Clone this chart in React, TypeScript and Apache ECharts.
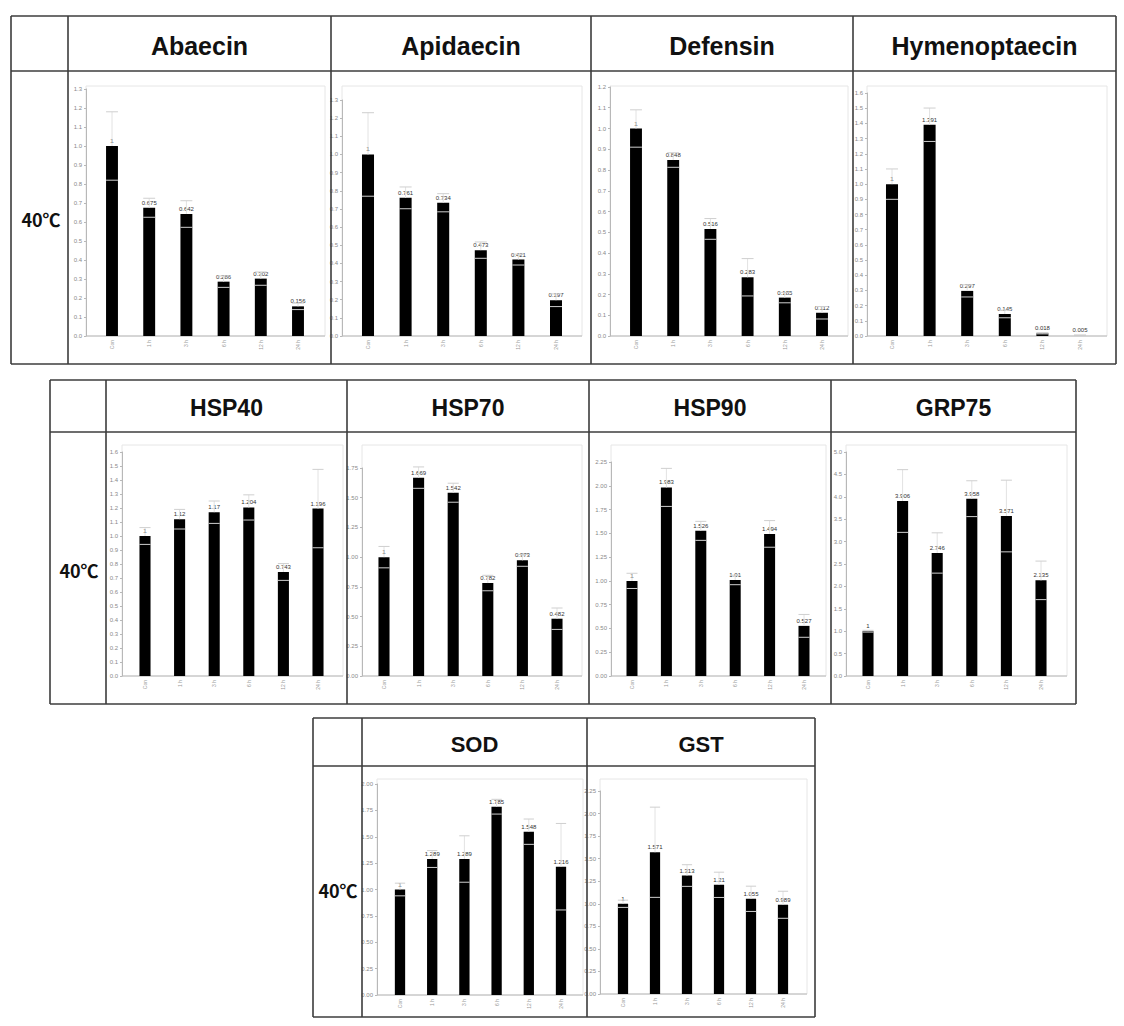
import React, { useEffect, useRef } from "react";
import * as echarts from "echarts";

// ---------- data ----------
const categories = ["Con", "1 h", "3 h", "6 h", "12 h", "24 h"];

const abaecinValues = [1, 0.675, 0.642, 0.286, 0.302, 0.156];
const abaecinErrors = [0.18, 0.05, 0.07, 0.03, 0.035, 0.017];

const apidaecinValues = [1, 0.761, 0.734, 0.473, 0.421, 0.197];
const apidaecinErrors = [0.23, 0.06, 0.05, 0.045, 0.03, 0.035];

const defensinValues = [1, 0.848, 0.516, 0.283, 0.185, 0.112];
const defensinErrors = [0.09, 0.035, 0.05, 0.09, 0.025, 0.03];

const hymenoptaecinValues = [1, 1.391, 0.297, 0.145, 0.018, 0.005];
const hymenoptaecinErrors = [0.1, 0.11, 0.04, 0.025, 0.004, 0.002];

const hsp40Values = [1, 1.12, 1.17, 1.204, 0.743, 1.196];
const hsp40Errors = [0.06, 0.07, 0.08, 0.09, 0.06, 0.28];

const hsp70Values = [1, 1.669, 1.542, 0.782, 0.973, 0.482];
const hsp70Errors = [0.09, 0.09, 0.08, 0.065, 0.05, 0.09];

const hsp90Values = [1, 1.983, 1.526, 1.01, 1.494, 0.527];
const hsp90Errors = [0.08, 0.2, 0.1, 0.05, 0.14, 0.12];

const grp75Values = [1, 3.906, 2.746, 3.958, 3.571, 2.135];
const grp75Errors = [0.02, 0.7, 0.45, 0.4, 0.8, 0.43];

const sodValues = [1, 1.289, 1.289, 1.785, 1.548, 1.216];
const sodErrors = [0.06, 0.08, 0.22, 0.07, 0.12, 0.41];

const gstValues = [1, 1.571, 1.313, 1.21, 1.055, 0.989];
const gstErrors = [0.04, 0.5, 0.12, 0.14, 0.14, 0.15];

const rowLabel = "40℃";

// ---------- panels (axis scale settings) ----------
const panels = [
  { title: "Abaecin", values: abaecinValues, errors: abaecinErrors, max: 1.3, interval: 0.1, dec: 1 },
  { title: "Apidaecin", values: apidaecinValues, errors: apidaecinErrors, max: 1.3, interval: 0.1, dec: 1 },
  { title: "Defensin", values: defensinValues, errors: defensinErrors, max: 1.2, interval: 0.1, dec: 1 },
  { title: "Hymenoptaecin", values: hymenoptaecinValues, errors: hymenoptaecinErrors, max: 1.6, interval: 0.1, dec: 1 },
  { title: "HSP40", values: hsp40Values, errors: hsp40Errors, max: 1.6, interval: 0.1, dec: 1 },
  { title: "HSP70", values: hsp70Values, errors: hsp70Errors, max: 1.75, interval: 0.25, dec: 2 },
  { title: "HSP90", values: hsp90Values, errors: hsp90Errors, max: 2.25, interval: 0.25, dec: 2 },
  { title: "GRP75", values: grp75Values, errors: grp75Errors, max: 5.0, interval: 0.5, dec: 1 },
  { title: "SOD", values: sodValues, errors: sodErrors, max: 2.0, interval: 0.25, dec: 2 },
  { title: "GST", values: gstValues, errors: gstErrors, max: 2.25, interval: 0.25, dec: 2 },
];

// ---------- layout (pixel geometry) ----------
const layouts = [
  { axisX: 86, topLine: 86, maxTickY: 89, baseY: 336, c1: 112, c6: 298, right: 325 },
  { axisX: 342, topLine: 86, maxTickY: 100, baseY: 336, c1: 368, c6: 556, right: 582 },
  { axisX: 610, topLine: 86, maxTickY: 87, baseY: 336, c1: 636, c6: 822, right: 848 },
  { axisX: 867, topLine: 86, maxTickY: 93, baseY: 336, c1: 892, c6: 1080, right: 1107 },
  { axisX: 122, topLine: 445, maxTickY: 452, baseY: 676, c1: 145, c6: 318, right: 343 },
  { axisX: 362, topLine: 445, maxTickY: 468, baseY: 676, c1: 384, c6: 557, right: 582 },
  { axisX: 611, topLine: 445, maxTickY: 462, baseY: 676, c1: 632, c6: 804, right: 826 },
  { axisX: 846, topLine: 445, maxTickY: 452, baseY: 676, c1: 868, c6: 1041, right: 1067 },
  { axisX: 377, topLine: 779, maxTickY: 784, baseY: 995, c1: 400, c6: 561, right: 583 },
  { axisX: 600, topLine: 779, maxTickY: 791, baseY: 994, c1: 623, c6: 783, right: 807 },
];

const tables = [
  { xs: [11, 68, 331, 591, 853, 1116], ys: [16, 71, 364], panelIdx: [0, 1, 2, 3], titleSize: 25, labelX: 41, labelY: 219 },
  { xs: [50, 106, 347, 589, 831, 1076], ys: [380, 432, 704], panelIdx: [4, 5, 6, 7], titleSize: 23, labelX: 79, labelY: 570 },
  { xs: [313, 362, 587, 815], ys: [718, 766, 1017], panelIdx: [8, 9], titleSize: 22, labelX: 338, labelY: 890 },
];

const TITLE_FONT = "'Liberation Sans', Arial, sans-serif";
const ERR_LINE = "#e2e2e2";
const ERR_CAP = "#cfcfcf";

function buildOption() {
  const grids: any[] = [];
  const xAxes: any[] = [];
  const yAxes: any[] = [];
  const series: any[] = [];
  const graphics: any[] = [];

  panels.forEach((p, i) => {
    const L = layouts[i];
    const sp = (L.c6 - L.c1) / 5;
    const left = L.c1 - sp / 2;
    grids.push({
      left,
      top: L.maxTickY,
      width: sp * 6,
      height: L.baseY - L.maxTickY,
      outerBoundsMode: "none",
      containLabel: false,
    });
    xAxes.push({
      type: "category",
      gridIndex: i,
      data: categories,
      axisLine: { show: false },
      axisTick: { show: false },
      axisLabel: { rotate: 90, fontSize: 5, color: "#999", margin: 4, fontFamily: TITLE_FONT },
    });
    yAxes.push({
      type: "value",
      gridIndex: i,
      min: 0,
      max: p.max,
      interval: p.interval,
      offset: left - L.axisX,
      axisLine: { show: true, lineStyle: { color: "#b8b8b8", width: 1 } },
      axisTick: { show: true, length: 2, lineStyle: { color: "#b8b8b8" } },
      splitLine: { show: false },
      axisLabel: {
        fontSize: 6,
        color: "#8a8a8a",
        margin: 4,
        fontFamily: TITLE_FONT,
        formatter: (v: number) => v.toFixed(p.dec),
      },
    });
    series.push({
      type: "bar",
      xAxisIndex: i,
      yAxisIndex: i,
      data: p.values,
      barWidth: "32%",
      itemStyle: { color: "#000" },
      z: 2,
      label: {
        show: true,
        position: "top",
        distance: 2,
        fontSize: 6,
        color: "#333",
        fontFamily: TITLE_FONT,
        formatter: (d: any) => String(d.value),
      },
    });
    series.push({
      type: "custom",
      xAxisIndex: i,
      yAxisIndex: i,
      z: 3,
      data: p.values.map((v, k) => [k, v, p.errors[k]]),
      renderItem: (params: any, api: any) => {
        const x = api.value(0);
        const v = api.value(1);
        const e = api.value(2);
        const top = api.coord([x, v + e]);
        const mid = api.coord([x, v]);
        const bot = api.coord([x, Math.max(0, v - e)]);
        const half = (api.size([1, 0])[0] * 0.32) / 2;
        return {
          type: "group",
          children: [
            { type: "line", shape: { x1: top[0], y1: top[1], x2: mid[0], y2: mid[1] }, style: { stroke: ERR_LINE, lineWidth: 1 } },
            { type: "line", shape: { x1: top[0] - half, y1: top[1], x2: top[0] + half, y2: top[1] }, style: { stroke: ERR_CAP, lineWidth: 1 } },
            { type: "line", shape: { x1: bot[0] - half, y1: bot[1], x2: bot[0] + half, y2: bot[1] }, style: { stroke: ERR_CAP, lineWidth: 1 } },
          ],
        };
      },
    });
    // light plot-area frame
    graphics.push({
      type: "rect",
      shape: { x: L.axisX, y: L.topLine, width: L.right - L.axisX, height: L.baseY - L.topLine },
      style: { fill: "none", stroke: "#e6e6e6", lineWidth: 1 },
      z: 0,
      silent: true,
    });
    graphics.push({
      type: "line",
      shape: { x1: L.axisX, y1: L.baseY, x2: L.right, y2: L.baseY },
      style: { stroke: "#b8b8b8", lineWidth: 1 },
      z: 1,
      silent: true,
    });
  });

  // tables
  tables.forEach((t) => {
    const x0 = t.xs[0];
    const x1 = t.xs[t.xs.length - 1];
    const y0 = t.ys[0];
    const y1 = t.ys[t.ys.length - 1];
    t.ys.forEach((y) => {
      graphics.push({
        type: "line",
        shape: { x1: x0, y1: y, x2: x1, y2: y },
        style: { stroke: "#3c3c3c", lineWidth: 1.6 },
        z: 10,
        silent: true,
      });
    });
    t.xs.forEach((x) => {
      graphics.push({
        type: "line",
        shape: { x1: x, y1: y0, x2: x, y2: y1 },
        style: { stroke: "#3c3c3c", lineWidth: 1.6 },
        z: 10,
        silent: true,
      });
    });
    t.panelIdx.forEach((pi, k) => {
      const cx = (t.xs[k + 1] + t.xs[k + 2]) / 2;
      const cy = (t.ys[0] + t.ys[1]) / 2 + 2;
      graphics.push({
        type: "text",
        x: cx,
        y: cy,
        style: {
          text: panels[pi].title,
          fontSize: t.titleSize,
          fontWeight: "bold",
          fontFamily: TITLE_FONT,
          fill: "#111",
          align: "center",
          verticalAlign: "middle",
        },
        z: 10,
      });
    });
    graphics.push({
      type: "text",
      x: t.labelX,
      y: t.labelY,
      style: {
        text: rowLabel,
        fontSize: 18,
        fontWeight: "bold",
        fontFamily: "'Noto Sans CJK KR', sans-serif",
        fill: "#111",
        align: "center",
        verticalAlign: "middle",
      },
      z: 10,
    });
  });

  return {
    animation: false,
    backgroundColor: "#fff",
    grid: grids,
    xAxis: xAxes,
    yAxis: yAxes,
    series,
    graphic: graphics,
  };
}

export default function App() {
  const ref = useRef<HTMLDivElement>(null);
  useEffect(() => {
    if (!ref.current) return;
    const chart = echarts.init(ref.current, null, { renderer: "svg" });
    chart.setOption(buildOption() as any);
    return () => chart.dispose();
  }, []);
  return (
    <div
      ref={ref}
      style={{ position: "absolute", left: 0, top: 0, width: 1124, height: 1026, background: "#fff" }}
    />
  );
}
